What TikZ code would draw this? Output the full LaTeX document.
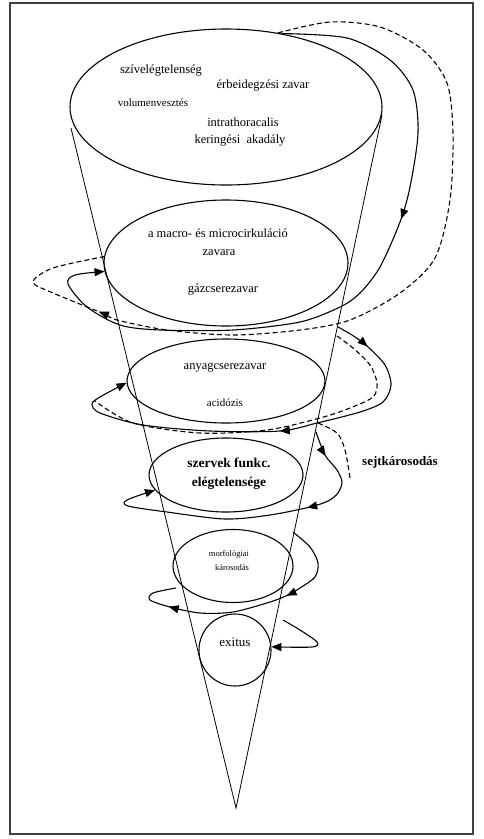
\documentclass[tikz,border=0pt]{standalone}
\usepackage{fontspec}
\setmainfont{Liberation Serif}
\usetikzlibrary{shapes.geometric,arrows.meta,decorations.markings}

\begin{document}
\begin{tikzpicture}[x=1pt, y=-1pt,
  stage/.style = {draw, ellipse, line width=1.1pt, inner sep=0pt},
  lbl/.style = {font=\fontsize{12.5}{14}\selectfont, inner sep=1pt},
  flow/.style = {line width=1.1pt, line join=round},
  loss/.style = {flow, dash pattern=on 5pt off 3pt},
  midtip/.style = {postaction={decorate, decoration={markings,
      mark=at position #1 with {\arrow{Triangle[length=10pt,width=8pt]}}}}}]
  \useasboundingbox (0,0) rectangle (483,839);
  \draw[line width=2pt, black!75] (10,3) rectangle (473,834);

  % the funnel
  \node[stage, minimum width=312, minimum height=156] (top) at (226,107) {};
  \node[stage, minimum width=244, minimum height=126] (macro) at (226,263) {};
  \node[stage, minimum width=198, minimum height=84] (anyag) at (226,381) {};
  \node[stage, minimum width=154, minimum height=74] (szervek) at (226,475) {};
  \node[stage, minimum width=120, minimum height=73] (morf) at (233,566) {};
  \node[stage, circle, minimum size=72] (exitus) at (235,650) {};

  \coordinate (apex) at (236,808);
  \coordinate (rimL) at (71,128);
  \coordinate (rimR) at (382,115);
  \draw[line width=0.8pt] (rimL) -- (apex) -- (rimR);

  % texts
  \node[lbl] (t1) at (161,70) {szívelégtelenség};
  \node[lbl] (t2) at (263,85) {érbeidegzési zavar};
  \node[lbl, font=\fontsize{11}{13}\selectfont] (t3) at (153,103) {volumenvesztés};
  \node[lbl] (t4) at (243,122) {intrathoracalis};
  \node[lbl] (t5) at (240,140) {keringési\ \ akadály};
  \node[lbl] (m1) at (218,233) {a macro- és microcirkuláció};
  \node[lbl] (m2) at (219,253) {zavara};
  \node[lbl] (m3) at (223,289) {gázcserezavar};
  \node[lbl] (a1) at (225,368) {anyagcserezavar};
  \node[lbl, font=\fontsize{11}{13}\selectfont] (a2) at (225,403) {acidózis};
  \node[lbl, font=\bfseries\fontsize{13.5}{15}\selectfont] (s1) at (229,463) {szervek funkc.};
  \node[lbl, font=\bfseries\fontsize{13.5}{15}\selectfont] (s2) at (229,483) {elégtelensége};
  \node[lbl, font=\fontsize{8.5}{10}\selectfont] (k1) at (229,554) {morfológiai};
  \node[lbl, font=\fontsize{8.5}{10}\selectfont] (k2) at (232,568) {károsodás};
  \node[lbl, font=\fontsize{13}{15}\selectfont] (x1) at (235,642) {exitus};
  \node[lbl, font=\bfseries\fontsize{13}{15}\selectfont] (sejt) at (400,462) {sejtkárosodás};

  % loops
  \coordinate (c0) at (338,327);
  \coordinate (d0) at (337,336);
  \coordinate (d1) at (95,401);
  \coordinate (e0) at (318,423);
  \coordinate (e1) at (350,478);
  \coordinate (f0) at (316,432);
  \coordinate (g0) at (293,532);
  \coordinate (g1) at (176,588);
  \coordinate (h0) at (283,620);

  \draw[flow, midtip=0.39, -{Triangle[length=10pt,width=8pt]}] plot[smooth] coordinates {(top.53) (347,38) (390,60) (413,90) (418,133) (410,187) (400,222) (380,267) (360,293) (340,307) (300,322) (233,330) (160,330) (120,325) (87,307) (68,284) (75,275) (macro.184)};
  \draw[loss, midtip=0.83] plot[smooth] coordinates {(top.55) (330,22) (380,27) (423,50) (447,83) (453,133) (450,200) (435,258) (400,293) (350,320) (300,330) (233,335) (167,330) (117,320) (102,313) (53,293) (33,282) (53,268) (macro.177)};
  \draw[flow, midtip=0.08, midtip=0.47, -{Triangle[length=10pt,width=8pt]}] plot[smooth] coordinates {(c0) (352,335) (367,346) (385,365) (391,385) (383,402) (360,412) (317,423) (280,431) (210,431) (143,425) (100,413) (92,404) (100,397) (anyag.181)};
  \draw[loss] plot[smooth] coordinates {(d0) (353,348) (370,365) (377,383) (373,397) (350,408) (320,418) (267,430) (200,433) (133,423) (d1)};
  \draw[loss] plot[smooth] coordinates {(e0) (337,433) (345,450) (e1)};
  \draw[flow, midtip=0.08, midtip=0.32, -{Triangle[length=10pt,width=8pt]}] plot[smooth] coordinates {(f0) (325,455) (337,470) (342,482) (338,493) (328,501) (310,507) (270,515) (225,519) (167,512) (128,506) (127,500) (szervek.192)};
  \draw[flow, midtip=0.34, midtip=0.8] plot[smooth] coordinates {(g0) (310,547) (318,563) (315,577) (300,588) (288,595) (270,602) (233,612) (200,613) (170,607) (150,600) (153,593) (g1)};
  \draw[flow, -{Triangle[length=10pt,width=8pt]}] plot[smooth] coordinates {(h0) (300,630) (317,642) (312,647) (exitus.5)};
\end{tikzpicture}
\end{document}
